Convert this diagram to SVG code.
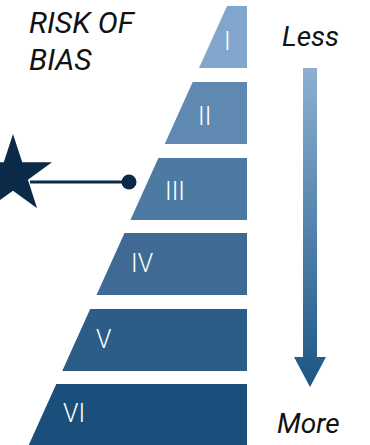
<svg xmlns="http://www.w3.org/2000/svg" width="370" height="445" viewBox="0 0 370 445">
  <defs>
    <linearGradient id="arrowGrad" x1="0" y1="68" x2="0" y2="387" gradientUnits="userSpaceOnUse">
      <stop offset="0" stop-color="#8cb0d3"/>
      <stop offset="1" stop-color="#1c5684"/>
    </linearGradient>
    <style>
      .title { font-family: Roboto, "Liberation Sans", sans-serif; font-style: italic; font-size: 28px; fill: #111; }
      .head { font-size: 30px; }
      .num { font-family: Roboto, "Liberation Sans", sans-serif; font-weight: 300; font-size: 25px; fill: #ffffff; }
      .dark { fill: #0b2a47; }
    </style>
  </defs>
  <rect width="370" height="445" fill="#ffffff"/>

  <!-- heading -->
  <text class="title head" x="29" y="33">RISK OF</text>
  <text class="title head" x="29" y="70">BIAS</text>

  <!-- pyramid tiers -->
  <g id="tier-1">
    <polygon points="227,6 247,6 247,68 199,68" fill="#80a7cb"/>
    <text class="num" x="224" y="50">I</text>
  </g>
  <g id="tier-2">
    <polygon points="192.7,82 247,82 247,144 164.7,144" fill="#5f89b1"/>
    <text class="num" x="198" y="125">II</text>
  </g>
  <g id="tier-3">
    <polygon points="158.4,158 247,158 247,220 130.4,220" fill="#4c7aa3"/>
    <text class="num" x="165" y="200">III</text>
  </g>
  <g id="tier-4">
    <polygon points="124.5,233 247,233 247,295 96.5,295" fill="#3e6a93"/>
    <text class="num" x="131" y="272">IV</text>
  </g>
  <g id="tier-5">
    <polygon points="90.2,309 247,309 247,371 62.2,371" fill="#2b5d87"/>
    <text class="num" x="96" y="348">V</text>
  </g>
  <g id="tier-6">
    <polygon points="56.3,384 247,384 247,446 28.3,446" fill="#1a4f7b"/>
    <text class="num" x="63" y="422">VI</text>
  </g>

  <!-- marker star -->
  <g id="star">
    <polygon class="dark" points="13,134 22.23,162.3 52,162.33 27.93,179.85 37.1,208.17 13,190.7 -11.1,208.17 -1.93,179.85 -26,162.33 3.77,162.3"/>
  </g>

  <!-- connectors -->
  <g id="connectors">
    <line x1="30" y1="182" x2="129" y2="182" stroke="#0b2a47" stroke-width="3"/>
    <circle class="dark" cx="129" cy="182" r="7.5"/>
  </g>

  <!-- scale arrow -->
  <g id="scale">
    <text class="title" x="282" y="46">Less</text>
    <polygon points="303,68 317,68 317,357 326,357 310,387 294,357 303,357" fill="url(#arrowGrad)"/>
    <text class="title" x="277" y="433">More</text>
  </g>
</svg>
